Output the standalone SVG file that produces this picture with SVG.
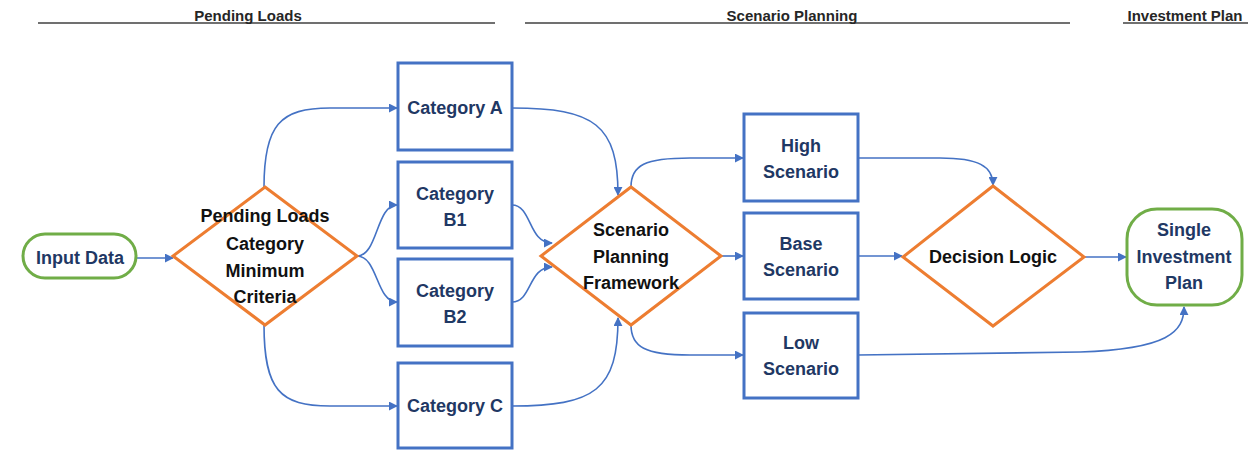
<svg xmlns="http://www.w3.org/2000/svg" width="1260" height="462" viewBox="0 0 1260 462">
<style>
.hdr{font-family:"Liberation Sans",Arial,sans-serif;font-weight:bold;font-size:15px;fill:#262626;text-anchor:middle}
.hl{stroke:#404040;stroke-width:1.5}
.box{fill:#fff;stroke:#4472C4;stroke-width:3}
.dia{fill:#fff;stroke:#ED7D31;stroke-width:3}
.term{fill:#fff;stroke:#70AD47;stroke-width:3}
.bt{font-family:"Liberation Sans",Arial,sans-serif;font-weight:bold;font-size:18px;fill:#1F3864;text-anchor:middle}
.dt{font-family:"Liberation Sans",Arial,sans-serif;font-weight:bold;font-size:18px;fill:#111;text-anchor:middle}
.c{fill:none;stroke:#4472C4;stroke-width:1.6;marker-end:url(#ah)}
</style>
<defs>
<marker id="ah" viewBox="0 0 10 10" refX="9" refY="5" markerWidth="9" markerHeight="9" markerUnits="userSpaceOnUse" orient="auto">
<path d="M0,0 L10,5 L0,10 z" fill="#4472C4"/>
</marker>
</defs>
<g id="headers">
<line class="hl" x1="38" y1="23" x2="495" y2="23"/>
<text class="hdr" x="248" y="21">Pending Loads</text>
<line class="hl" x1="525" y1="23" x2="1070" y2="23"/>
<text class="hdr" x="792" y="21">Scenario Planning</text>
<line class="hl" x1="1123" y1="23" x2="1248" y2="23"/>
<text class="hdr" x="1185" y="21">Investment Plan</text>
</g>
<g id="connectors">
<path class="c" d="M136,258 L173,258"/>
<path class="c" d="M264,187 C264,125 280,108 330,108 L397,108"/>
<path class="c" d="M264,325 C264,390 280,406 330,406 L397,406"/>
<path class="c" d="M357,256 C378,256 376,205 397,205"/>
<path class="c" d="M357,256 C378,256 376,302 397,302"/>
<path class="c" d="M512,108 C595,108 618,125 618,195"/>
<path class="c" d="M512,205 C532,205 528,243 552,243"/>
<path class="c" d="M512,302 C532,302 528,267 552,267"/>
<path class="c" d="M512,406 C595,406 618,390 618,318"/>
<path class="c" d="M631,187 C631,165 645,158 690,158 L743,158"/>
<path class="c" d="M721,256 L743,256"/>
<path class="c" d="M631,325 C631,347 645,355 690,355 L743,355"/>
<path class="c" d="M858,158 L940,158 C978,158 993,166 993,185"/>
<path class="c" d="M858,256 L902,256"/>
<path class="c" d="M1084,257 L1126,257"/>
<path class="c" d="M858,355 L1080,352 C1168,349 1184,332 1184,307"/>
</g>
<g id="input-data">
<rect class="term" x="23" y="234" width="113" height="44" rx="22"/>
<text class="bt" x="80" y="264">Input Data</text>
</g>
<g id="pending-criteria">
<polygon class="dia" points="265,187 357,256 265,325 173,256"/>
<text class="dt" x="265" y="222">Pending Loads</text>
<text class="dt" x="265" y="250">Category</text>
<text class="dt" x="265" y="277">Minimum</text>
<text class="dt" x="265" y="303">Criteria</text>
</g>
<g id="category-a">
<rect class="box" x="398" y="63" width="114" height="87"/>
<text class="bt" x="455" y="114">Category A</text>
</g>
<g id="category-b1">
<rect class="box" x="398" y="162" width="114" height="86"/>
<text class="bt" x="455" y="200">Category</text>
<text class="bt" x="455" y="226">B1</text>
</g>
<g id="category-b2">
<rect class="box" x="398" y="259" width="114" height="87"/>
<text class="bt" x="455" y="297">Category</text>
<text class="bt" x="455" y="323">B2</text>
</g>
<g id="category-c">
<rect class="box" x="398" y="363" width="114" height="85"/>
<text class="bt" x="455" y="412">Category C</text>
</g>
<g id="scenario-framework">
<polygon class="dia" points="631,187 721,256 631,325 541,256"/>
<text class="dt" x="631" y="236">Scenario</text>
<text class="dt" x="631" y="263">Planning</text>
<text class="dt" x="631" y="289">Framework</text>
</g>
<g id="high-scenario">
<rect class="box" x="744" y="114" width="114" height="87"/>
<text class="bt" x="801" y="152">High</text>
<text class="bt" x="801" y="178">Scenario</text>
</g>
<g id="base-scenario">
<rect class="box" x="744" y="213" width="114" height="86"/>
<text class="bt" x="801" y="250">Base</text>
<text class="bt" x="801" y="276">Scenario</text>
</g>
<g id="low-scenario">
<rect class="box" x="744" y="313" width="114" height="85"/>
<text class="bt" x="801" y="349">Low</text>
<text class="bt" x="801" y="375">Scenario</text>
</g>
<g id="decision-logic">
<polygon class="dia" points="993,186 1084,257 993,326 903,257"/>
<text class="dt" x="993" y="263">Decision Logic</text>
</g>
<g id="investment-plan">
<rect class="term" x="1127" y="209" width="115" height="96" rx="30"/>
<text class="bt" x="1184" y="236">Single</text>
<text class="bt" x="1184" y="263">Investment</text>
<text class="bt" x="1184" y="289">Plan</text>
</g>
</svg>
